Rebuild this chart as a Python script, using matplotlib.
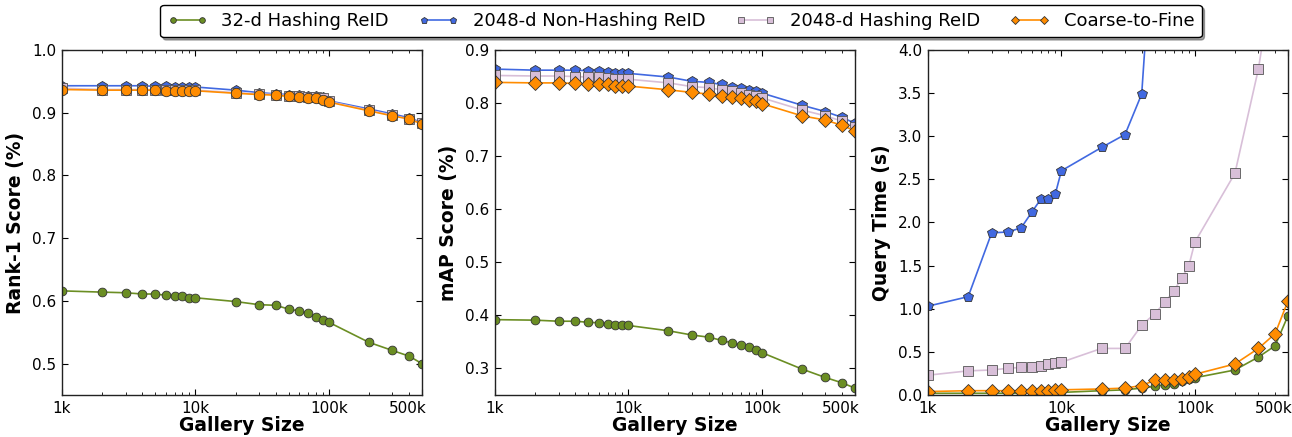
import matplotlib
matplotlib.use("Agg")
import matplotlib.pyplot as plt
import matplotlib.transforms as mtransforms
from matplotlib.ticker import FixedLocator, FixedFormatter, NullFormatter, LogLocator

# ---------------- data ----------------
gallery = [1e3, 2e3, 3e3, 4e3, 5e3, 6e3, 7e3, 8e3, 9e3, 1e4,
           2e4, 3e4, 4e4, 5e4, 6e4, 7e4, 8e4, 9e4, 1e5,
           2e5, 3e5, 4e5, 5e5]

series_names = ["32-d Hashing ReID", "2048-d Non-Hashing ReID",
                "2048-d Hashing ReID", "Coarse-to-Fine"]

# Rank-1
rank1_h32 = [0.616, 0.614, 0.613, 0.611, 0.611, 0.609, 0.608, 0.608, 0.605, 0.605,
             0.599, 0.594, 0.593, 0.587, 0.584, 0.580, 0.574, 0.570, 0.566,
             0.534, 0.521, 0.512, 0.500]
rank1_nh2048 = [0.943, 0.943, 0.943, 0.943, 0.942, 0.942, 0.941, 0.941, 0.941, 0.941,
                0.936, 0.932, 0.930, 0.929, 0.928, 0.927, 0.926, 0.925, 0.919,
                0.906, 0.898, 0.892, 0.884]
rank1_h2048 = [0.939, 0.937, 0.937, 0.937, 0.937, 0.936, 0.936, 0.936, 0.936, 0.936,
               0.932, 0.930, 0.929, 0.927, 0.926, 0.925, 0.925, 0.924, 0.918,
               0.904, 0.896, 0.890, 0.883]
rank1_c2f = [0.937, 0.936, 0.936, 0.936, 0.936, 0.935, 0.935, 0.935, 0.935, 0.935,
             0.931, 0.929, 0.928, 0.926, 0.925, 0.924, 0.924, 0.921, 0.917,
             0.903, 0.895, 0.890, 0.882]

# mAP
map_h32 = [0.392, 0.391, 0.389, 0.389, 0.387, 0.386, 0.384, 0.382, 0.382, 0.381,
           0.371, 0.363, 0.359, 0.353, 0.348, 0.344, 0.341, 0.334, 0.330,
           0.299, 0.283, 0.273, 0.263]
map_nh2048 = [0.864, 0.862, 0.862, 0.862, 0.861, 0.861, 0.859, 0.857, 0.857, 0.856,
              0.849, 0.841, 0.839, 0.835, 0.831, 0.828, 0.825, 0.823, 0.819,
              0.796, 0.784, 0.773, 0.762]
map_h2048 = [0.852, 0.851, 0.851, 0.850, 0.849, 0.849, 0.848, 0.846, 0.846, 0.845,
             0.838, 0.831, 0.829, 0.825, 0.822, 0.819, 0.816, 0.814, 0.810,
             0.787, 0.776, 0.766, 0.755]
map_c2f = [0.839, 0.838, 0.838, 0.837, 0.836, 0.836, 0.835, 0.833, 0.833, 0.832,
           0.825, 0.820, 0.817, 0.813, 0.811, 0.809, 0.806, 0.803, 0.799,
           0.776, 0.768, 0.758, 0.748]

# Query time (s)
time_h32 = [0.02, 0.02, 0.02, 0.02, 0.02, 0.03, 0.03, 0.03, 0.03, 0.03,
            0.05, 0.06, 0.08, 0.10, 0.12, 0.13, 0.16, 0.18, 0.20,
            0.29, 0.44, 0.57, 0.92]
time_nh2048 = [1.03, 1.14, 1.88, 1.89, 1.94, 2.12, 2.27, 2.27, 2.33, 2.60,
               2.87, 3.02, 3.49, 5.7, 6.5, 7.3, 8.0, 8.7, 9.4,
               17.0, 25.0, 33.0, 41.0]
time_h2048 = [0.23, 0.28, 0.29, 0.31, 0.32, 0.33, 0.34, 0.36, 0.37, 0.38,
              0.54, 0.54, 0.81, 0.94, 1.08, 1.21, 1.36, 1.49, 1.77,
              2.57, 3.78, 5.0, 6.2]
time_c2f = [0.04, 0.05, 0.05, 0.05, 0.05, 0.05, 0.05, 0.05, 0.06, 0.06,
            0.07, 0.08, 0.11, 0.17, 0.17, 0.17, 0.18, 0.21, 0.24,
            0.36, 0.54, 0.71, 1.09]

xtick_vals = [1e3, 1e4, 1e5, 5e5]
xtick_labels = ["1k", "10k", "100k", "500k"]

# ---------------- style ----------------
plt.rcParams['font.family'] = ['DejaVu Sans']
plt.rcParams['xtick.direction'] = 'in'
plt.rcParams['ytick.direction'] = 'in'
plt.rcParams['xtick.top'] = True
plt.rcParams['ytick.right'] = True
plt.rcParams['xtick.major.size'] = 4
plt.rcParams['xtick.minor.size'] = 2.5
plt.rcParams['ytick.major.size'] = 4
plt.rcParams['xtick.major.pad'] = 4
plt.rcParams['ytick.major.pad'] = 4

c_green = '#6b8e23'
c_blue = '#4169e1'
c_pink = '#d8bfd8'
c_orange = '#ff8c00'
edge = '#333333'

fig = plt.figure(figsize=(12.92, 4.37), dpi=100)
bottom, top = 0.0961, 0.8856
lefts = [0.048, 0.3831, 0.7183]
width = 0.2786
axes = [fig.add_axes([l, bottom, width, top - bottom]) for l in lefts]

panels = [
    (rank1_h32, rank1_nh2048, rank1_h2048, rank1_c2f, 'Rank-1 Score (%)', (0.45, 1.0),
     [0.5, 0.6, 0.7, 0.8, 0.9, 1.0], 'o'),
    (map_h32, map_nh2048, map_h2048, map_c2f, 'mAP Score (%)', (0.25, 0.9),
     [0.3, 0.4, 0.5, 0.6, 0.7, 0.8, 0.9], 'D'),
    (time_h32, time_nh2048, time_h2048, time_c2f, 'Query Time (s)', (0.0, 4.0),
     [0.0, 0.5, 1.0, 1.5, 2.0, 2.5, 3.0, 3.5, 4.0], 'D'),
]

shift_left = mtransforms.ScaledTranslation(-14 / 100, 0, fig.dpi_scale_trans)

handles = None
for ax, (h32, nh, h2048, c2f, ylabel, ylim, yticks, c2f_marker) in zip(axes, panels):
    l1, = ax.plot(gallery, h32, '-', color=c_green, marker='o', ms=6.3,
                  mfc=c_green, mec=edge, mew=0.6, lw=1.2, label=series_names[0])
    l2, = ax.plot(gallery, nh, '-', color=c_blue, marker='p', ms=7,
                  mfc=c_blue, mec=edge, mew=0.6, lw=1.2, label=series_names[1])
    l3, = ax.plot(gallery, h2048, '-', color=c_pink, marker='s', ms=7,
                  mfc=c_pink, mec='#555555', mew=0.6, lw=1.2, label=series_names[2])
    l4, = ax.plot(gallery, c2f, '-', color=c_orange, marker=c2f_marker,
                  ms=(7.5 if c2f_marker == 'o' else 7), mfc=c_orange, mec=edge, mew=0.6,
                  lw=1.2, label=series_names[3])
    if c2f_marker == 'D':
        handles = [l1, l2, l3, l4]
    ax.set_xscale('log')
    ax.set_xlim(1e3, 5e5)
    ax.set_ylim(*ylim)
    ax.xaxis.set_major_locator(FixedLocator(xtick_vals))
    ax.xaxis.set_major_formatter(FixedFormatter(xtick_labels))
    ax.xaxis.set_minor_locator(LogLocator(base=10, subs=range(2, 10)))
    ax.xaxis.set_minor_formatter(NullFormatter())
    ax.set_yticks(yticks)
    ax.set_yticklabels(['%.1f' % v for v in yticks])
    ax.tick_params(labelsize=11)
    ax.set_xlabel('Gallery Size', fontsize=13.5, fontweight='bold', labelpad=0)
    ax.set_ylabel(ylabel, fontsize=13.5, fontweight='bold', labelpad=5)
    for sp in ax.spines.values():
        sp.set_linewidth(1.0)
        sp.set_color('#222222')
    fig.canvas.draw()
    last = ax.get_xticklabels()[-1]
    last.set_transform(last.get_transform() + shift_left)

leg = fig.legend(handles, series_names, loc='center', bbox_to_anchor=(0.527, 0.952),
                 ncol=4, fontsize=13, frameon=True, fancybox=True, shadow=True,
                 markerscale=0.65, numpoints=2, handlelength=2.2, columnspacing=1.65,
                 borderpad=0.4, handletextpad=0.8)
leg.get_frame().set_edgecolor('black')
leg.get_frame().set_linewidth(1.0)
leg.get_frame().set_alpha(1.0)

fig.savefig('out.png', dpi=100, facecolor='white')
